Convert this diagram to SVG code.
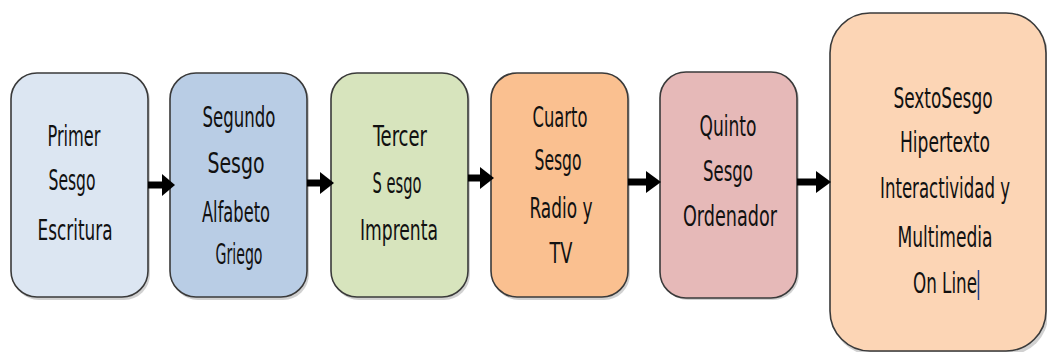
<svg xmlns="http://www.w3.org/2000/svg" width="1047" height="352" viewBox="0 0 1047 352">
  <style>
    .box { stroke: #3a3a3a; stroke-width: 1.6; }
    .shadow { fill: #9a9a9a; opacity: 0.45; }
    .lbl { font-family: "DejaVu Sans", "Liberation Sans", sans-serif; font-stretch: condensed; font-size: 28px; fill: #111; text-anchor: middle; }
    .shaft { stroke: #000; stroke-width: 7; fill: none; }
    .head { fill: #000; }
  </style>
  <rect width="1047" height="352" fill="#ffffff"/>

  <g id="node-primer">
    <rect class="shadow" x="13" y="75" width="137" height="225" rx="26"/>
    <rect class="box" x="11" y="73" width="137" height="224" rx="26" fill="#dce6f2"/>
    <text class="lbl" x="74" y="146" textLength="53" lengthAdjust="spacingAndGlyphs">Primer</text>
    <text class="lbl" x="72" y="190" textLength="47" lengthAdjust="spacingAndGlyphs">Sesgo</text>
    <text class="lbl" x="75" y="240" textLength="75" lengthAdjust="spacingAndGlyphs">Escritura</text>
  </g>

  <g id="node-segundo">
    <rect class="shadow" x="172" y="75" width="137" height="225" rx="26"/>
    <rect class="box" x="170" y="73" width="137" height="224" rx="26" fill="#b9cde5"/>
    <text class="lbl" x="239" y="127" textLength="73" lengthAdjust="spacingAndGlyphs">Segundo</text>
    <text class="lbl" x="236" y="173" textLength="57" lengthAdjust="spacingAndGlyphs">Sesgo</text>
    <text class="lbl" x="236" y="222" textLength="68" lengthAdjust="spacingAndGlyphs">Alfabeto</text>
    <text class="lbl" x="239" y="264" textLength="47" lengthAdjust="spacingAndGlyphs">Griego</text>
  </g>

  <g id="node-tercer">
    <rect class="shadow" x="333" y="75" width="137" height="225" rx="26"/>
    <rect class="box" x="331" y="73" width="137" height="224" rx="26" fill="#d7e4bd"/>
    <text class="lbl" x="400" y="146" textLength="54" lengthAdjust="spacingAndGlyphs">Tercer</text>
    <text class="lbl" x="397" y="193" textLength="49" lengthAdjust="spacingAndGlyphs">S esgo</text>
    <text class="lbl" x="399" y="240" textLength="78" lengthAdjust="spacingAndGlyphs">Imprenta</text>
  </g>

  <g id="node-cuarto">
    <rect class="shadow" x="493" y="75" width="137" height="225" rx="26"/>
    <rect class="box" x="491" y="73" width="137" height="224" rx="26" fill="#fac090"/>
    <text class="lbl" x="560" y="127" textLength="55" lengthAdjust="spacingAndGlyphs">Cuarto</text>
    <text class="lbl" x="558" y="170" textLength="47" lengthAdjust="spacingAndGlyphs">Sesgo</text>
    <text class="lbl" x="561" y="218" textLength="63" lengthAdjust="spacingAndGlyphs">Radio y</text>
    <text class="lbl" x="561" y="263" textLength="23" lengthAdjust="spacingAndGlyphs">TV</text>
  </g>

  <g id="node-quinto">
    <rect class="shadow" x="662" y="74" width="137" height="226" rx="26"/>
    <rect class="box" x="660" y="72" width="137" height="226" rx="26" fill="#e6b9b8"/>
    <text class="lbl" x="728" y="136" textLength="57" lengthAdjust="spacingAndGlyphs">Quinto</text>
    <text class="lbl" x="728" y="181" textLength="50" lengthAdjust="spacingAndGlyphs">Sesgo</text>
    <text class="lbl" x="730" y="226" textLength="94" lengthAdjust="spacingAndGlyphs">Ordenador</text>
  </g>

  <g id="node-sexto">
    <rect class="shadow" x="832" y="15" width="216" height="340" rx="40"/>
    <rect class="box" x="830" y="13" width="216" height="338" rx="40" fill="#fcd5b5"/>
    <text class="lbl" x="943" y="108" textLength="99" lengthAdjust="spacingAndGlyphs">SextoSesgo</text>
    <text class="lbl" x="945" y="152" textLength="90" lengthAdjust="spacingAndGlyphs">Hipertexto</text>
    <text class="lbl" x="945" y="198" textLength="130" lengthAdjust="spacingAndGlyphs">Interactividad y</text>
    <text class="lbl" x="945" y="247" textLength="95" lengthAdjust="spacingAndGlyphs">Multimedia</text>
    <text class="lbl" x="945" y="293" textLength="64" lengthAdjust="spacingAndGlyphs">On Line</text>
    <line x1="978.5" y1="270" x2="978.5" y2="300" stroke="#1f3f8f" stroke-width="1.5"/>
  </g>

  <g id="connectors">
    <line class="shaft" x1="148" y1="185" x2="164" y2="185"/>
    <polygon class="head" points="162,174 175,185 162,196"/>
    <line class="shaft" x1="307" y1="183" x2="322" y2="183"/>
    <polygon class="head" points="320,172 334,183 320,194"/>
    <line class="shaft" x1="468" y1="178" x2="482" y2="178"/>
    <polygon class="head" points="480,167 494,178 480,189"/>
    <line class="shaft" x1="628" y1="182" x2="648" y2="182"/>
    <polygon class="head" points="646,171 661,182 646,193"/>
    <line class="shaft" x1="797" y1="182" x2="818" y2="182"/>
    <polygon class="head" points="816,171 831,182 816,193"/>
  </g>
</svg>
